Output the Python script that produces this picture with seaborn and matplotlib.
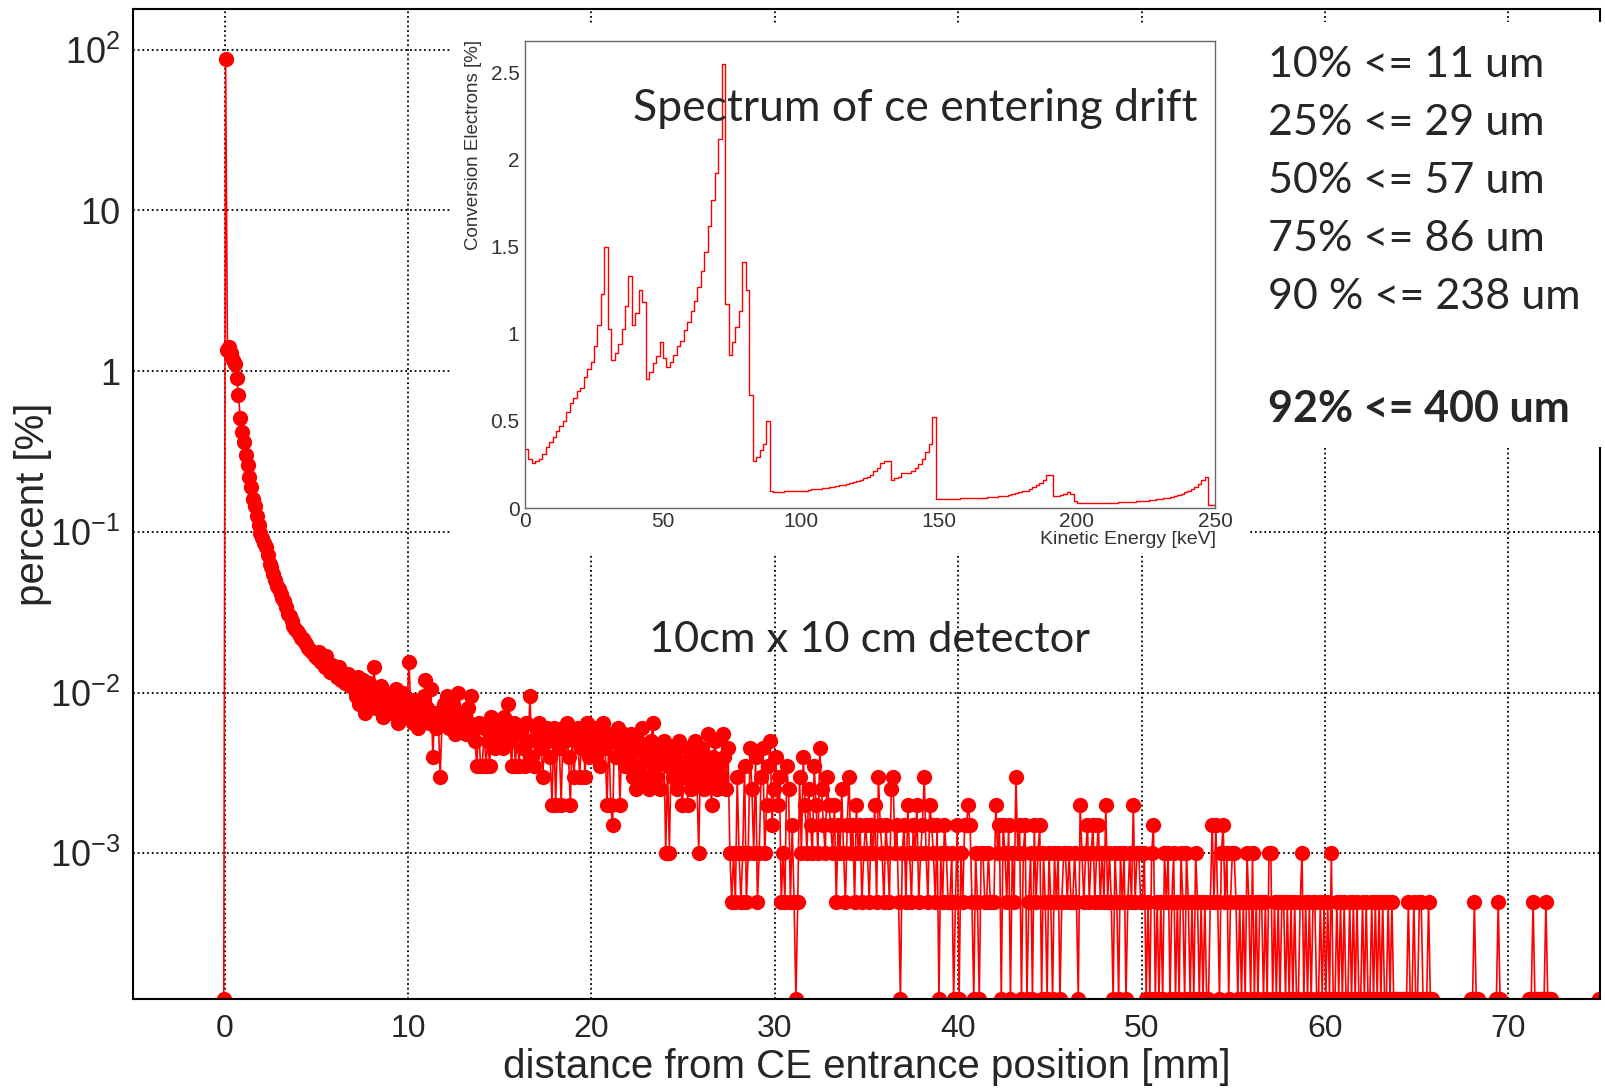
import numpy as np
import pandas as pd
import matplotlib
matplotlib.use("Agg")
import matplotlib.pyplot as plt
import seaborn as sns
from matplotlib.patches import Rectangle
from matplotlib.ticker import (FixedLocator, FixedFormatter, FuncFormatter,
                               LogLocator, MultipleLocator, NullFormatter)

# ---------- MAIN HISTOGRAM DATA (0.1 mm bins) ----------
bin_width = 0.1
first_center = -0.05
count_unit = 0.0005          # percent carried by one entry

# bins -0.05 .. 6.95 mm, in percent
head_pct = [
    0.0, 87.5, 1.35, 1.42, 1.30, 1.18, 1.10, 0.91, 0.71, 0.51, 0.42,
    0.36, 0.30, 0.26, 0.22, 0.19, 0.16, 0.145, 0.125, 0.11, 0.098,
    0.092, 0.085, 0.080, 0.072, 0.063, 0.060, 0.055, 0.050, 0.046, 0.044,
    0.041, 0.039, 0.037, 0.034, 0.031, 0.030, 0.028, 0.026, 0.025, 0.024,
    0.023, 0.022, 0.0215, 0.021, 0.020, 0.019, 0.0185, 0.018, 0.0175, 0.017,
    0.0165, 0.018, 0.0155, 0.016, 0.0145, 0.017, 0.015, 0.0135, 0.0148, 0.014,
    0.0135, 0.0125, 0.0145, 0.012, 0.013, 0.0115, 0.0125, 0.013, 0.011, 0.012,
]

N = None   # bin not drawn
# entries per bin from 7.0 mm on, one row per mm
tail_counts = [
    22, 19, 25, 17, 21, 24, 15, 20, 23, 18,   # 7
    19, 29, 16, 21, 18, 22, 14, 20, 17, 19,   # 8
    17, 15, 19, 21, 13, 18, 16, 20, 14, 17,   # 9
    31, 16, 13, 18, 15, 12, 17, 14, 19, 24,   # 10
    16, 13, 21, 8, 15, 12, 14, 6, 13, 17,     # 11
    15, 19, 12, 14, 17, 11, 13, 20, 12, 15,   # 12
    14, 11, 16, 13, 19, 12, 10, 7, 13, 7,     # 13
    7, 12, 7, 10, 7, 14, 11, 9, 13, 10,       # 14
    12, 9, 14, 11, 17, 10, 7, 13, 7, 11,      # 15
    7, 12, 9, 7, 13, 10, 19, 8, 7, 12,        # 16
    10, 13, 9, 6, 11, 12, 10, 8, 4, 12,       # 17
    4, 11, 9, 4, 12, 10, 13, 8, 4, 11,        # 18
    6, 10, 12, 6, 9, 11, 6, 13, 8, 10,        # 19
    9, 12, 8, 11, 7, 10, 13, 9, 4, 11,        # 20
    4, 3, 10, 8, 12, 4, 9, 11, 7, 10,         # 21
    8, 11, 6, 9, 5, 10, 7, 12, 6, 9,          # 22
    8, 5, 10, 13, 7, 6, 9, 5, 8, 10,          # 23
    2, 7, 2, 9, 6, 8, 5, 10, 7, 4,            # 24
    6, 9, 4, 8, 5, 7, 10, 6, 2, 8,            # 25
    9, 5, 7, 11, 6, 4, 8, 10, 5, 7,           # 26
    6, 11, 8, 5, 9, 2, 1, 2, 1, 6,            # 27
    2, 1, 2, 7, 1, 2, 9, 5, 2, 8,             # 28
    1, 2, 6, 9, 2, 4, 7, 10, 3, 5,            # 29
    8, 4, 6, 1, 2, 1, 7, 5, 1, 3,             # 30
    1, 0, 1, 6, 2, 8, 4, 2, 5, 3,             # 31
    2, 7, 4, 2, 9, 5, 3, 2, 6, 4,             # 32
    3, 2, 4, 1, 3, 2, 5, 2, 1, 3,             # 33
    6, 2, 3, 1, 4, 2, 3, 1, 2, 3,             # 34
    2, 1, 3, 2, 4, 1, 6, 3, 2, 1,             # 35
    3, 2, 1, 5, 6, 2, 3, 1, 0, 2,             # 36
    3, 1, 4, 2, 1, 3, 2, 4, 1, 2,             # 37
    3, 6, 2, 1, 4, 3, 2, 1, 3, 0,             # 38
    2, 1, 3, 2, 1, 1, 2, 0, 1, 3,             # 39
    0, 2, 1, 3, 3, 4, 3, 1, 0, 2,             # 40
    1, 0, 2, 2, 1, 1, 2, 1, 1, 1,             # 41
    4, 2, 3, 0, 3, 2, 1, 3, 0, 2,             # 42
    1, 6, 2, 3, 0, 2, 3, 0, 1, 2,             # 43
    0, 3, 1, 2, 3, 0, 2, 1, 0, 2,             # 44
    1, 0, 2, 1, 2, 0, 1, 2, 2, 1,             # 45
    2, 1, 1, 2, 1, 0, 4, 2, 1, 2,             # 46
    3, 1, 2, 3, 1, 2, 3, 1, 2, 1,             # 47
    4, 1, 2, 1, 0, 2, 1, 0, 2, 1,             # 48
    2, 0, 1, 2, 1, 4, 1, 2, 2, 1,             # 49
    1, 2, 0, 1, 0, 2, 3, 0, 1, 0,             # 50
    1, 0, 2, 1, 2, 0, 1, 2, 0, 1,             # 51
    0, 2, 1, 0, 2, 1, 0, 1, 0, 2,             # 52
    1, 0, 1, 0, 1, 0, 0, 1, 3, 1,             # 53
    3, 1, 0, 2, 3, 1, 2, 0, 1, 2,             # 54
    2, 1, 0, 1, 0, 1, 0, 2, 1, 0,             # 55
    2, 0, 1, 0, 1, 1, 0, 1, 0, 2,             # 56
    2, 0, 1, 0, 1, 0, 1, 1, 0, 1,             # 57
    0, 1, 0, 1, 0, 0, 1, 2, 0, 1,             # 58
    0, 1, 0, 1, 1, 0, 0, 1, 0, 1,             # 59
    0, 1, 0, 2, 0, 0, 1, 0, 1, 0,             # 60
    1, 0, 0, 1, 0, 1, 0, 1, 0, 0,             # 61
    1, 0, 1, 0, 0, 1, 0, 1, 0, 1,             # 62
    0, 1, 0, 0, 1, 0, 1, 0, 0, 0,             # 63
    0, 0, 0, 0, 0, 1, 0, 0, 1, 0,             # 64
    0, 1, 1, 0, 0, 0, 1, 0, 0, N,             # 65
    N, N, N, N, N, N, N, N, N, N,             # 66
    N, N, N, N, N, N, N, N, N, 0,             # 67
    0, 1, 0, 0, N, N, N, N, N, N,             # 68
    N, N, N, 0, 1, 0, N, N, N, N,             # 69
    N, N, N, N, N, N, N, N, N, N,             # 70
    N, 0, 0, 1, 0, 0, 0, 0, 0, 0,             # 71
    1, 0, 0, 0, N, N, N, N, N, N,             # 72
    N, N, N, N, N, N, N, N, N, N,             # 73
    N, N, N, N, N, N, N, N, N, 0,             # 74
]

y_floor = 1.24e-4
y_top = 179
y_ticks = [1e-3, 1e-2, 1e-1, 1, 10, 100]
y_tick_labels = [r"$10^{-3}$", r"$10^{-2}$", r"$10^{-1}$", "1", "10", r"$10^{2}$"]
x_ticks = [0, 10, 20, 30, 40, 50, 60, 70]

# ---------- INSET SPECTRUM DATA (1.25 keV bins, percent) ----------
ke_bin = 1.25
ke_range = (0, 250)
ke_pct = [
    0.34, 0.28, 0.26, 0.27, 0.28, 0.31, 0.35, 0.38, 0.41, 0.44,
    0.47, 0.50, 0.55, 0.60, 0.63, 0.67, 0.69, 0.75, 0.80, 0.84,
    0.93, 1.05, 1.23, 1.50, 1.03, 0.85, 0.89, 0.94, 1.03, 1.16,
    1.33, 1.05, 1.12, 1.25, 1.18, 0.74, 0.78, 0.83, 0.87, 0.95,
    0.86, 0.81, 0.84, 0.88, 0.93, 0.96, 1.02, 1.07, 1.13, 1.19,
    1.27, 1.36, 1.47, 1.62, 1.77, 1.92, 2.12, 2.55, 1.17, 0.88,
    0.95, 1.04, 1.13, 1.41, 1.25, 0.65, 0.27, 0.29, 0.33, 0.37,
    0.50, 0.10, 0.09, 0.09, 0.09, 0.10, 0.10, 0.10, 0.10, 0.10,
    0.10, 0.10, 0.105, 0.11, 0.11, 0.11, 0.115, 0.115, 0.12, 0.12,
    0.125, 0.13, 0.13, 0.14, 0.145, 0.15, 0.155, 0.16, 0.17, 0.18,
    0.19, 0.21, 0.23, 0.26, 0.27, 0.27, 0.16, 0.17, 0.18, 0.20,
    0.20, 0.20, 0.21, 0.23, 0.25, 0.28, 0.32, 0.37, 0.52, 0.05,
    0.05, 0.05, 0.05, 0.05, 0.05, 0.05, 0.055, 0.055, 0.055, 0.06,
    0.06, 0.06, 0.06, 0.06, 0.065, 0.065, 0.065, 0.07, 0.07, 0.07,
    0.075, 0.08, 0.085, 0.09, 0.095, 0.10, 0.11, 0.12, 0.13, 0.145,
    0.16, 0.19, 0.19, 0.07, 0.07, 0.075, 0.08, 0.09, 0.08, 0.04,
    0.03, 0.03, 0.03, 0.03, 0.03, 0.03, 0.03, 0.03, 0.03, 0.03,
    0.03, 0.03, 0.035, 0.035, 0.035, 0.035, 0.035, 0.04, 0.04, 0.04,
    0.04, 0.045, 0.045, 0.05, 0.05, 0.055, 0.06, 0.065, 0.07, 0.075,
    0.08, 0.09, 0.10, 0.11, 0.12, 0.14, 0.16, 0.18, 0.02, 0.02,
]

notes = ["10% <= 11 um", "25% <= 29 um", "50% <= 57 um", "75% <= 86 um", "90 % <= 238 um"]
bold_note = "92% <= 400 um"

# ---------- BUILD TABLES ----------
vals = list(head_pct) + [np.nan if c is None else c * count_unit for c in tail_counts]
hist = pd.DataFrame({
    "x": first_center + bin_width * np.arange(len(vals)),
    "pct": np.array(vals, dtype=float),
})
hist["seg"] = hist["pct"].isna().cumsum()
hist = hist.dropna()
hist["shown"] = hist["pct"].clip(lower=y_floor)   # empty bins sit on the frame

spec = pd.DataFrame({
    "energy": ke_range[0] + ke_bin * (np.arange(len(ke_pct)) + 0.5),
    "pct": ke_pct,
})

# ---------- FIGURE ----------
sns.set_style("white")
plt.rcParams["font.family"] = ["Liberation Sans", "DejaVu Sans"]
plt.rcParams["mathtext.fontset"] = "custom"
plt.rcParams["mathtext.rm"] = "Liberation Sans"
plt.rcParams["mathtext.default"] = "regular"

W, H = 1606, 1088
fig = plt.figure(figsize=(W / 100, H / 100), dpi=100)


def fbox(x0, y0, x1, y1):
    # pixel box (top-left origin) -> figure fraction rect
    return [x0 / W, 1 - y1 / H, (x1 - x0) / W, (y1 - y0) / H]


ax = fig.add_axes(fbox(133, 9, 1600, 999))
ax.set_yscale("log")
ax.set_axisbelow(True)
ax.grid(True, which="major", color="black", linestyle=(0, (1, 1.6)), linewidth=1.3)

sns.lineplot(data=hist, x="x", y="shown", units="seg", estimator=None,
             color="#ff0000", linewidth=1.2, marker="o", markersize=11,
             markeredgewidth=0, legend=False, ax=ax)

ax.set_xlim(-5, 75)
ax.set_ylim(y_floor, y_top)
ax.xaxis.set_major_locator(FixedLocator(x_ticks))
ax.xaxis.set_minor_locator(MultipleLocator(2))
ax.yaxis.set_major_locator(FixedLocator(y_ticks))
ax.yaxis.set_major_formatter(FixedFormatter(y_tick_labels))
ax.yaxis.set_minor_locator(LogLocator(base=10, subs=np.arange(2, 10), numticks=30))
ax.yaxis.set_minor_formatter(NullFormatter())
ax.tick_params(which="both", direction="in", top=False, right=False, color="black")
ax.tick_params(axis="y", which="major", length=33, width=1.1, labelsize=26, pad=9)
ax.tick_params(axis="y", which="minor", length=16, width=1.1)
ax.tick_params(axis="x", which="major", length=21, width=1.1, labelsize=23, pad=11)
ax.tick_params(axis="x", which="minor", length=9.5, width=1.1)
for s in ax.spines.values():
    s.set_color("black")
    s.set_linewidth(1.5)

ax.set_xlabel("distance from CE entrance position [mm]", fontsize=29)
ax.set_ylabel("percent [%]", fontsize=29)
ax.xaxis.set_label_coords(0.5, -0.049)
ax.yaxis.set_label_coords(-0.055, 0.5)

# white panels: pasted spectrum and the note box
fig.add_artist(Rectangle((450 / W, 1 - 553 / H), 800 / W, 530 / H,
                         transform=fig.transFigure, facecolor="white",
                         edgecolor="none", zorder=5))
fig.add_artist(Rectangle((1250 / W, 1 - 447 / H), 356 / W, 425 / H,
                         transform=fig.transFigure, facecolor="white",
                         edgecolor="none", zorder=5))

# ---------- INSET ----------
inset_font = ["Liberation Sans Narrow", "Liberation Sans"]
ax_in = fig.add_axes(fbox(525, 41, 1215, 508))
ax_in.set_zorder(6)
sns.histplot(data=spec, x="energy", weights="pct", binwidth=ke_bin, binrange=ke_range,
             element="step", fill=False, color="#ff0000", linewidth=1.0, ax=ax_in)
ax_in.set_xlim(0, 250)
ax_in.set_ylim(0, 2.68)
ax_in.set_xlabel("")
ax_in.set_ylabel("")
ax_in.xaxis.set_major_locator(MultipleLocator(50))
ax_in.xaxis.set_minor_locator(MultipleLocator(10))
ax_in.yaxis.set_major_locator(MultipleLocator(0.5))
ax_in.yaxis.set_minor_locator(MultipleLocator(0.1))
ax_in.yaxis.set_major_formatter(FuncFormatter(lambda v, _: f"{v:g}"))
ax_in.tick_params(which="both", direction="in", top=False, right=False, color="#444444",
                  labelcolor="#333333")
ax_in.tick_params(axis="y", which="major", length=15, width=0.9, labelsize=15, pad=4)
ax_in.tick_params(axis="y", which="minor", length=7.5, width=0.9)
ax_in.tick_params(axis="x", which="major", length=10, width=0.9, labelsize=15, pad=3)
ax_in.tick_params(axis="x", which="minor", length=6, width=0.9)
for lab in ax_in.get_xticklabels() + ax_in.get_yticklabels():
    lab.set_family(inset_font)
for s in ax_in.spines.values():
    s.set_color("#666666")
    s.set_linewidth(1.0)

fig.text(474 / W, 1 - 40 / H, "Conversion Electrons [%]", rotation=90, ha="center",
         va="top", fontsize=13.5, color="#333333", family=inset_font, zorder=7)
fig.text(1216 / W, 1 - 540 / H, "Kinetic Energy [keV]", ha="right", va="center",
         fontsize=14, color="#333333", family=inset_font, zorder=7)

# ---------- ANNOTATIONS ----------
note_font = ["Lato", "DejaVu Sans"]
fig.text(633 / W, 1 - 121 / H, "Spectrum of ce entering drift", ha="left",
         va="baseline", fontsize=32, family=note_font, zorder=8)
fig.text(649 / W, 1 - 652 / H, "10cm x 10 cm detector", ha="left",
         va="baseline", fontsize=31.2, family=note_font, zorder=8)
for k, line in enumerate(notes):
    fig.text(1268 / W, 1 - (77 + 57.9 * k) / H, line, ha="left", va="baseline",
             fontsize=31, family=note_font, zorder=8)
fig.text(1268 / W, 1 - 422 / H, bold_note, ha="left", va="baseline",
         fontsize=31, fontweight="bold", family=note_font, zorder=8)

fig.savefig("out.png", dpi=100)
